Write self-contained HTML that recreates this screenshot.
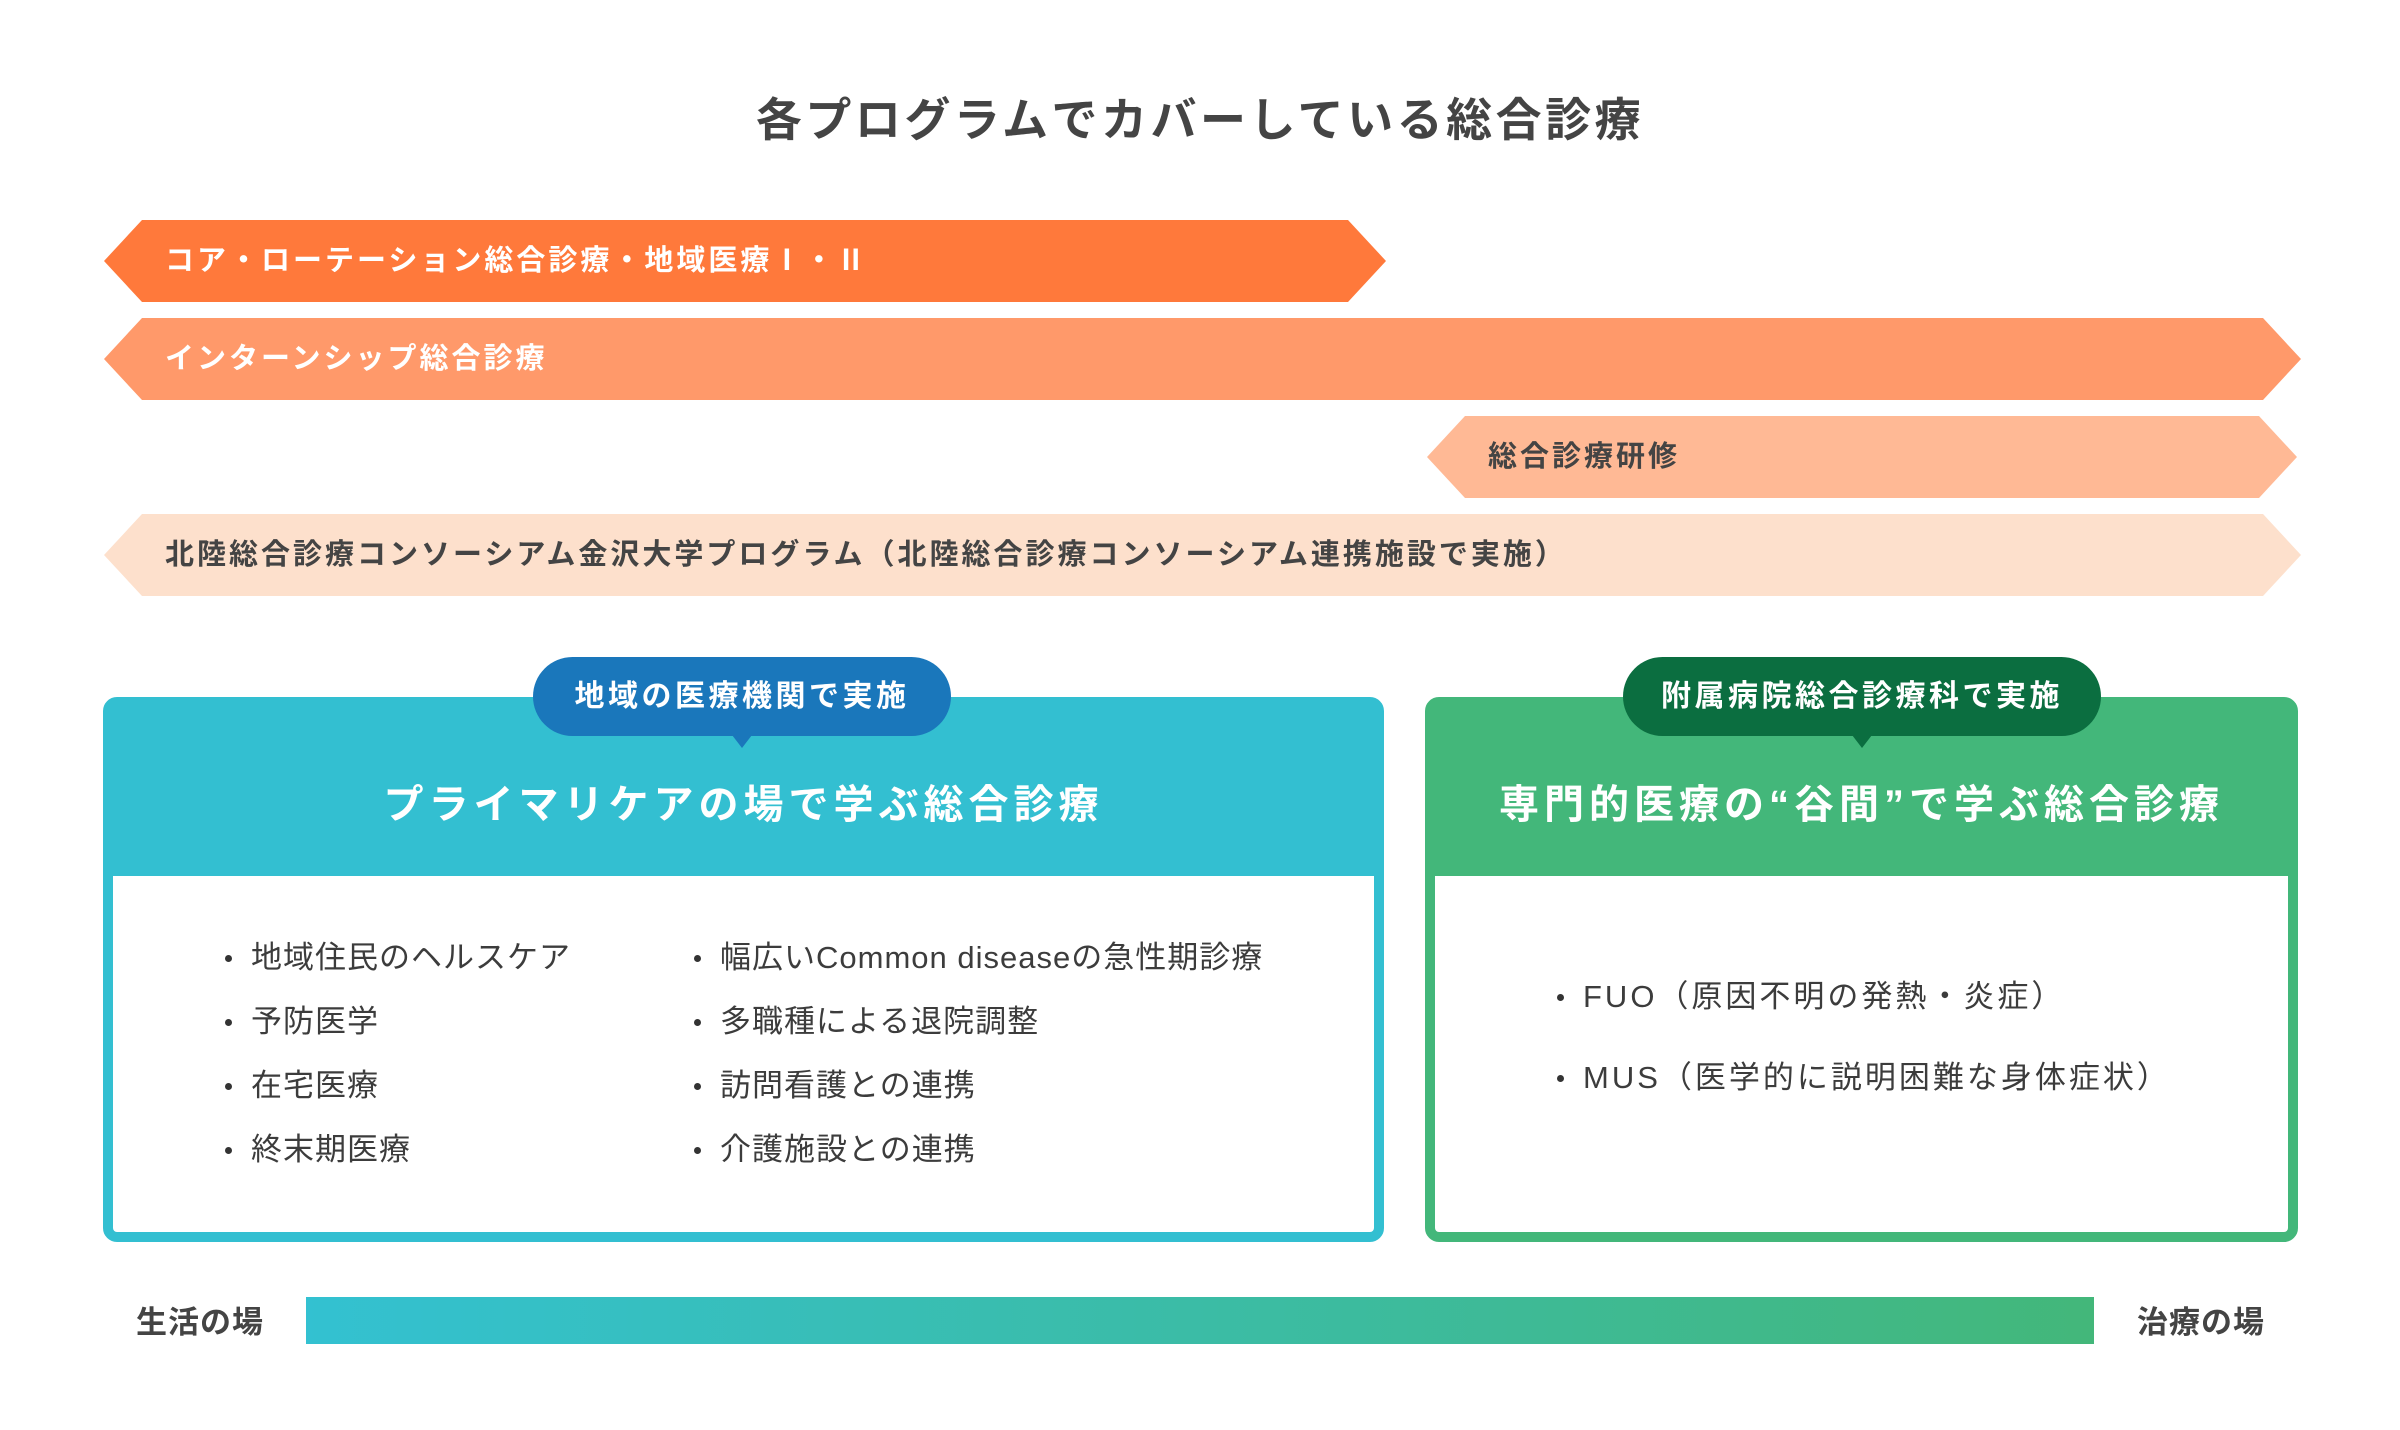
<!DOCTYPE html>
<html><head><meta charset="utf-8"><style>
*{margin:0;padding:0;box-sizing:border-box}
body{width:2400px;height:1430px;background:#fff;position:relative;overflow:hidden;font-family:"Liberation Sans","Noto Sans CJK JP",sans-serif;color:#3c3c3c}
.a{position:absolute}
.title{left:0;width:2400px;top:90px;text-align:center;font-size:46px;font-weight:bold;color:#444;line-height:60px;letter-spacing:3.5px}
.bar{position:absolute;height:82px;line-height:82px;font-size:29px;font-weight:bold;color:#fff;padding-left:61px;letter-spacing:3px;clip-path:polygon(38px 0,calc(100% - 38px) 0,100% 50%,calc(100% - 38px) 100%,38px 100%,0 50%)}
.box{position:absolute;border:10px solid;border-radius:14px;background:#fff}
.hd{position:absolute;left:0;right:0;top:0;height:170px;display:flex;align-items:center;justify-content:center;color:#fff;font-size:40px;font-weight:bold;padding-top:20px;letter-spacing:5px}
.pill{position:absolute;height:79px;border-radius:40px;color:#fff;font-size:30px;font-weight:bold;text-align:center;line-height:79px;letter-spacing:3.5px}
.pill:after{content:"";position:absolute;left:50%;bottom:-12px;margin-left:-10px;border-left:10px solid transparent;border-right:10px solid transparent;border-top:13px solid var(--c)}
.li{position:absolute;font-size:31px;line-height:40px;white-space:nowrap;letter-spacing:1px}
.li:before{content:"";position:absolute;left:-26px;top:17px;width:7px;height:7px;border-radius:50%;background:#333}
</style></head><body>
<div class="a title">各プログラムでカバーしている総合診療</div>
<div class="bar" style="left:104px;top:220px;width:1282px;background:#ff793b">コア・ローテーション総合診療・地域医療Ⅰ・Ⅱ</div>
<div class="bar" style="left:104px;top:318px;width:2197px;background:#ff996a">インターンシップ総合診療</div>
<div class="bar" style="left:1427px;top:416px;width:870px;background:#ffb995;color:#444">総合診療研修</div>
<div class="bar" style="left:104px;top:514px;width:2197px;background:#fde0cc;color:#444">北陸総合診療コンソーシアム金沢大学プログラム（北陸総合診療コンソーシアム連携施設で実施）</div>

<div class="box" style="left:103px;top:697px;width:1281px;height:545px;border-color:#33bfd1">
<div class="hd" style="background:#33bfd1;top:-1px">プライマリケアの場で学ぶ総合診療</div>
</div>
<div class="pill" style="left:533px;top:657px;width:418px;background:#1a77bb;--c:#1a77bb">地域の医療機関で実施</div>
<div class="li" style="left:251px;top:938px">地域住民のヘルスケア</div>
<div class="li" style="left:251px;top:1002px">予防医学</div>
<div class="li" style="left:251px;top:1066px">在宅医療</div>
<div class="li" style="left:251px;top:1130px">終末期医療</div>
<div class="li" style="left:720px;top:938px">幅広いCommon diseaseの急性期診療</div>
<div class="li" style="left:720px;top:1002px">多職種による退院調整</div>
<div class="li" style="left:720px;top:1066px">訪問看護との連携</div>
<div class="li" style="left:720px;top:1130px">介護施設との連携</div>

<div class="box" style="left:1425px;top:697px;width:873px;height:545px;border-color:#43b77a">
<div class="hd" style="background:#43b77a;top:-1px">専門的医療の“谷間”で学ぶ総合診療</div>
</div>
<div class="pill" style="left:1623px;top:657px;width:478px;background:#0b6e40;--c:#0b6e40">附属病院総合診療科で実施</div>
<div class="li" style="left:1583px;top:977px;letter-spacing:3px">FUO（原因不明の発熱・炎症）</div>
<div class="li" style="left:1583px;top:1058px;letter-spacing:3px">MUS（医学的に説明困難な身体症状）</div>

<div class="a" style="left:306px;top:1297px;width:1788px;height:47px;background:linear-gradient(90deg,#33c1d1,#43b77a)"></div>
<div class="a" style="left:136px;top:1302px;font-size:31px;font-weight:bold;line-height:42px;color:#444;letter-spacing:1px">生活の場</div>
<div class="a" style="left:2137px;top:1302px;font-size:31px;font-weight:bold;line-height:42px;color:#444;letter-spacing:1px">治療の場</div>
</body></html>
